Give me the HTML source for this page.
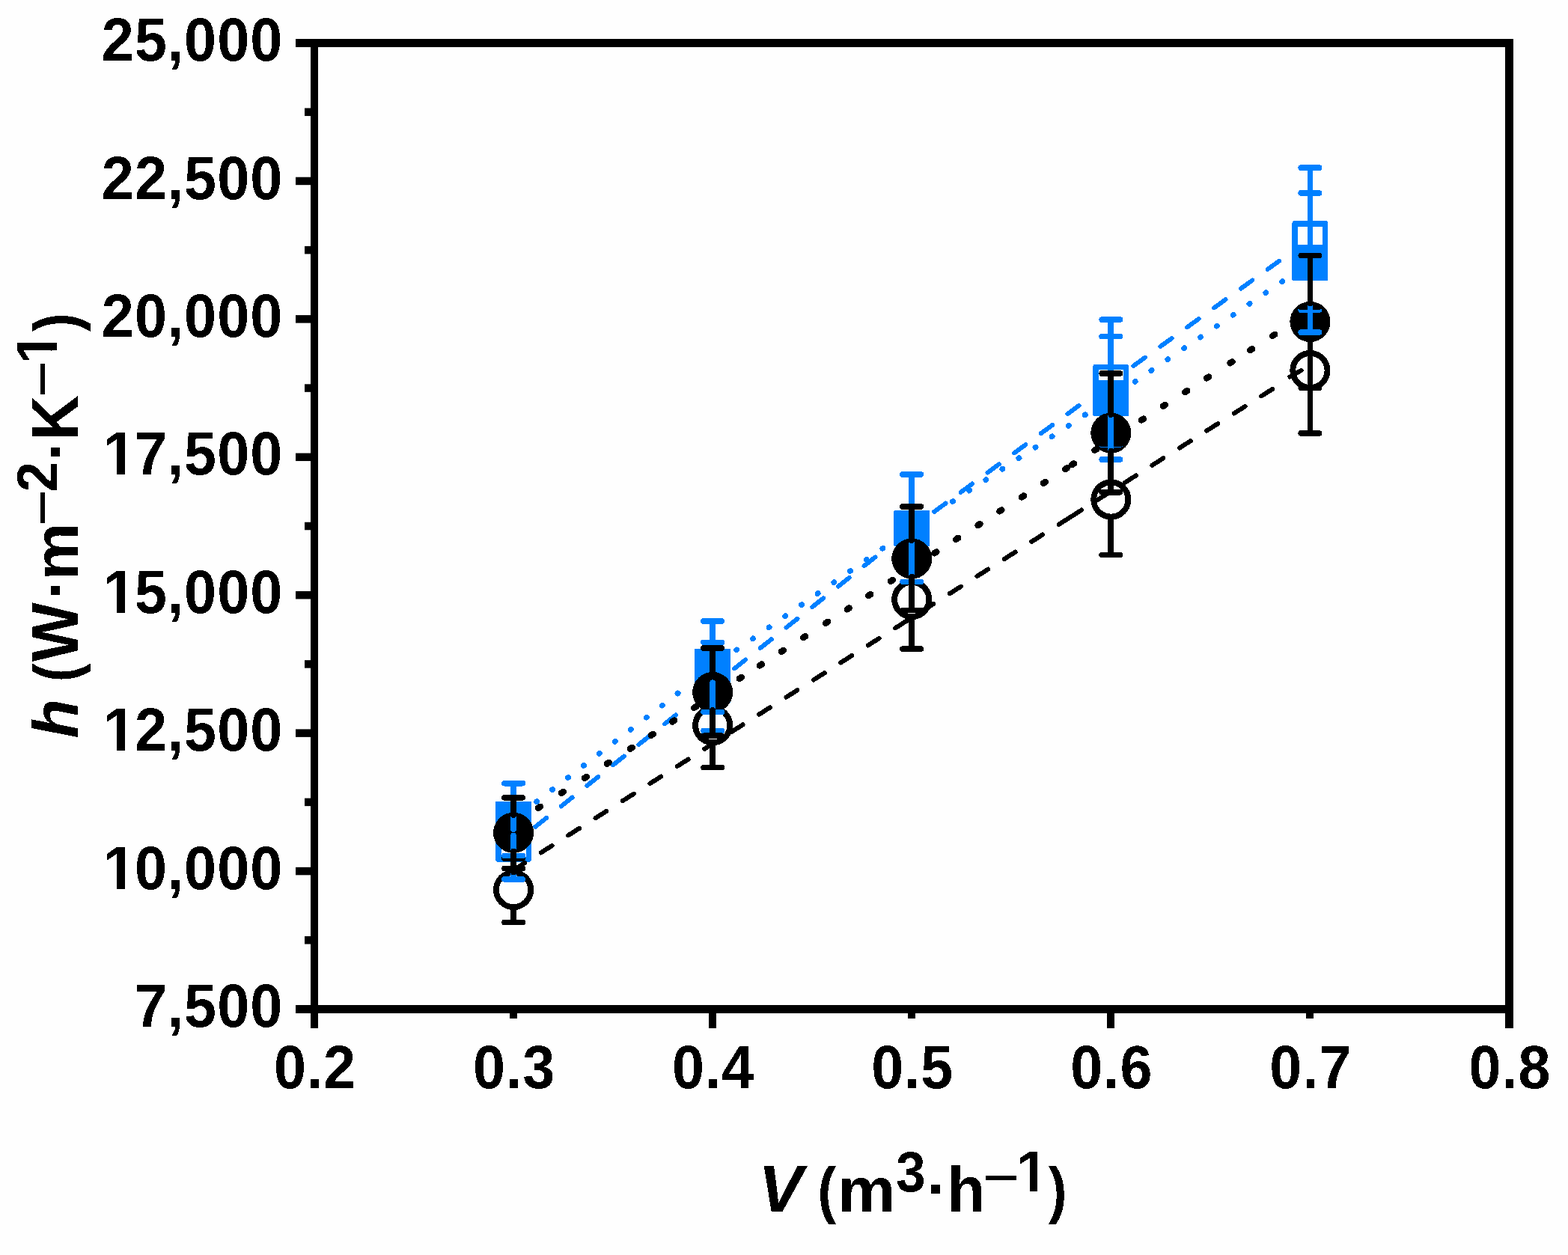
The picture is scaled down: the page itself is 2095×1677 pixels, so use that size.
<!DOCTYPE html>
<html lang="en"><head><meta charset="utf-8"><title>h (W·m–2·K–1) versus V (m3·h–1)</title>
<style>html,body{margin:0;padding:0;background:#fefefe;}body{width:2095px;height:1677px;overflow:hidden;}svg{display:block;}</style>
</head><body>
<svg width="2095" height="1677" viewBox="0 0 2095 1677">
<defs><filter id="bw" x="0" y="0" width="2095" height="1677" filterUnits="userSpaceOnUse" color-interpolation-filters="sRGB"><feComponentTransfer><feFuncA type="discrete" tableValues="0 1"/></feComponentTransfer></filter><clipPath id="k1"><path clip-rule="evenodd" d="M91.54 -200H540.03V100H91.54ZM145.42 -8.09H160.05V20H145.42ZM170.93 -8.09H184.14V20H170.93Z"/></clipPath><clipPath id="k2"><path clip-rule="evenodd" d="M-50 -200H379.59V100H-50ZM3.66 -7.65H17.5V20H3.66ZM27.8 -7.65H40.28V20H27.8Z"/></clipPath></defs>
<rect width="2095" height="1677" fill="#fefefe"/>
<g id="plot" shape-rendering="crispEdges">
<path d="M715.12 1104.91L729.99 1093.08M749.72 1077.4L764.59 1065.57M784.31 1049.89L799.18 1038.06M818.9 1022.38L833.78 1010.55M853.5 994.86L868.37 983.04M888.09 967.35L902.96 955.53" fill="none" stroke="#0080ff" stroke-width="6.0" stroke-linecap="round"/>
<path d="M981.26 893.38L996.16 881.58M1015.92 865.94L1030.81 854.15M1050.57 838.51L1065.47 826.72M1085.23 811.08L1100.13 799.29M1119.89 783.65L1134.79 771.86M1154.55 756.22L1169.45 744.43" fill="none" stroke="#0080ff" stroke-width="6.0" stroke-linecap="round"/>
<path d="M1248.16 683.85L1263.48 672.61M1283.8 657.71L1299.12 646.47M1319.44 631.56L1334.75 620.32M1355.07 605.41L1370.39 594.17M1390.71 579.26L1406.03 568.02M1426.34 553.12L1441.66 541.88" fill="none" stroke="#0080ff" stroke-width="6.0" stroke-linecap="round"/>
<path d="M1514.44 488.89L1529.86 477.79M1550.31 463.07L1565.73 451.97M1586.18 437.24L1601.6 426.14M1622.05 411.42L1637.47 400.32M1657.92 385.59L1673.34 374.49M1693.79 359.77L1709.21 348.66" fill="none" stroke="#0080ff" stroke-width="6.0" stroke-linecap="round"/>
<rect x="665.83" y="1107.75" width="40.5" height="40.5" fill="#fefefe" stroke="#0080ff" stroke-width="7.5" stroke-linejoin="round"/>
<rect x="931.92" y="896.15" width="40.5" height="40.5" fill="#fefefe" stroke="#0080ff" stroke-width="7.5" stroke-linejoin="round"/>
<rect x="1198" y="685.55" width="40.5" height="40.5" fill="#fefefe" stroke="#0080ff" stroke-width="7.5" stroke-linejoin="round"/>
<rect x="1464.08" y="490.32" width="40.5" height="40.5" fill="#fefefe" stroke="#0080ff" stroke-width="7.5" stroke-linejoin="round"/>
<rect x="1730.17" y="298.75" width="40.5" height="40.5" fill="#fefefe" stroke="#0080ff" stroke-width="7.5" stroke-linejoin="round"/>
<circle cx="686.08" cy="1189" r="23.1" fill="#fefefe" stroke="#000" stroke-width="7.9"/>
<circle cx="952.17" cy="969.2" r="23.1" fill="#fefefe" stroke="#000" stroke-width="7.9"/>
<circle cx="1218.25" cy="801" r="23.1" fill="#fefefe" stroke="#000" stroke-width="7.9"/>
<circle cx="1484.33" cy="667.5" r="23.1" fill="#fefefe" stroke="#000" stroke-width="7.9"/>
<circle cx="1750.42" cy="495" r="23.1" fill="#fefefe" stroke="#000" stroke-width="7.9"/>
<path d="M716.86 1071.33L717.34 1070.96M737.81 1055.26L738.28 1054.89M758.75 1039.18L759.23 1038.82M779.7 1023.11L780.17 1022.75M800.64 1007.04L801.12 1006.67M821.58 990.97L822.06 990.6M842.53 974.9L843 974.53M863.47 958.82L863.95 958.46M884.42 942.75L884.89 942.39M905.36 926.68L905.84 926.31" fill="none" stroke="#0080ff" stroke-width="7.4" stroke-linecap="round"/>
<path d="M984.03 868.61L984.52 868.27M1005.7 853.55L1006.2 853.2M1027.38 838.48L1027.87 838.13M1049.06 823.41L1049.55 823.07M1070.73 808.34L1071.23 808M1092.41 793.27L1092.9 792.93M1114.09 778.2L1114.58 777.86M1135.77 763.14L1136.26 762.79M1157.44 748.07L1157.94 747.72M1179.12 733L1179.61 732.66" fill="none" stroke="#0080ff" stroke-width="7.4" stroke-linecap="round"/>
<path d="M1272.82 670.12L1273.32 669.79M1294.91 655.67L1295.42 655.34M1317.01 641.22L1317.51 640.89M1339.1 626.77L1339.61 626.44M1361.2 612.32L1361.7 611.99M1383.29 597.87L1383.8 597.54M1405.39 583.42L1405.89 583.1M1427.48 568.98L1427.99 568.65M1449.58 554.53L1450.08 554.2" fill="none" stroke="#0080ff" stroke-width="7.4" stroke-linecap="round"/>
<path d="M1516.42 509.98L1516.91 509.64M1538.25 495.14L1538.74 494.8M1560.08 480.29L1560.57 479.95M1581.91 465.44L1582.4 465.11M1603.74 450.6L1604.23 450.26M1625.57 435.75L1626.07 435.42M1647.4 420.91L1647.9 420.57M1669.23 406.06L1669.73 405.72M1691.06 391.22L1691.56 390.88M1712.89 376.37L1713.39 376.03" fill="none" stroke="#0080ff" stroke-width="7.4" stroke-linecap="round"/>
<rect x="662.08" y="1070.95" width="48" height="48" rx="1.5" fill="#0080ff"/>
<rect x="928.17" y="866.76" width="48" height="48" rx="1.5" fill="#0080ff"/>
<rect x="1194.25" y="681.8" width="48" height="48" rx="1.5" fill="#0080ff"/>
<rect x="1460.33" y="507.8" width="48" height="48" rx="1.5" fill="#0080ff"/>
<rect x="1726.42" y="326.85" width="48" height="48" rx="1.5" fill="#0080ff"/>
<circle cx="686.08" cy="1112.7" r="27.05" fill="#000"/>
<circle cx="952.17" cy="925" r="27.05" fill="#000"/>
<circle cx="1218.25" cy="746.5" r="27.05" fill="#000"/>
<circle cx="1484.33" cy="578.6" r="27.05" fill="#000"/>
<circle cx="1750.42" cy="429.95" r="27.05" fill="#000"/>
<path d="M690.11 1098.31L692.89 1096.52M719.11 1079.66L721.89 1077.88M750.11 1059.73L752.89 1057.94M781.11 1039.8L783.89 1038.01M810.81 1020.7L813.59 1018.91M842.01 1000.64L844.79 998.85M869.91 982.7L872.69 980.91M898.31 964.44L901.09 962.65M927.31 945.79L930.09 944.01M956.61 926.95L959.39 925.17M987.81 906.89L990.59 905.1M1015.01 889.4L1017.79 887.61M1044.11 870.69L1046.89 868.9M1073.11 852.04L1075.89 850.26M1103.21 832.69L1105.99 830.9M1131.81 814.3L1134.59 812.51M1160.41 795.91L1163.19 794.12M1189.91 776.94L1192.69 775.15M1219.11 758.16L1221.89 756.38M1248.51 739.26L1251.29 737.47M1277.31 720.74L1280.09 718.96M1306.51 701.96L1309.29 700.18M1335.51 683.32L1338.29 681.53M1365.01 664.35L1367.79 662.56M1393.91 645.77L1396.69 643.98M1423.11 626.99L1425.89 625.21M1432.11 621.2L1434.89 619.42M1462.51 601.66L1465.29 599.87M1492.61 582.3L1495.39 580.52M1525.01 561.47L1527.79 559.68M1554.11 542.76L1556.89 540.97M1583.41 523.92L1586.19 522.13M1612.31 505.33L1615.09 503.55M1643.61 485.21L1646.39 483.42M1670.41 467.98L1673.19 466.19M1700.31 448.75L1703.09 446.97M1729.61 429.91L1732.39 428.13" fill="none" stroke="#000" stroke-width="8.6" stroke-linecap="round"/>
<path d="M686.31 1162.46L701.09 1153.09M722.73 1139.37L737.51 1130M759.15 1116.29L773.93 1106.92M795.57 1093.21L810.35 1083.84M831.99 1070.12L846.77 1060.75M868.41 1047.04L883.19 1037.67M904.83 1023.95L919.61 1014.58M941.25 1000.87L956.03 991.5M977.67 977.79L992.45 968.42M1014.09 954.7L1028.87 945.33M1050.51 931.62L1065.29 922.25M1086.93 908.53L1101.71 899.17M1123.35 885.45L1138.13 876.08M1159.77 862.37L1174.55 853M1196.19 839.28L1210.97 829.91M1232.61 816.2L1247.39 806.83M1269.03 793.11L1283.81 783.75M1305.45 770.03L1320.23 760.66M1341.87 746.95L1356.65 737.58M1378.29 723.86L1393.07 714.49M1414.71 700.78L1429.49 691.41M1430.21 690.96L1444.99 681.59M1466.63 667.87L1481.41 658.5M1503.05 644.79L1517.83 635.42M1539.47 621.7L1554.25 612.33M1575.89 598.62L1590.67 589.25M1612.31 575.54L1627.09 566.17M1648.73 552.45L1663.51 543.08M1685.15 529.37L1699.93 520" fill="none" stroke="#000" stroke-width="6.1" stroke-linecap="round"/>
<path d="M1723.4 503.6L1738.6 494.9" fill="none" stroke="#000" stroke-width="6.1" stroke-linecap="round"/>
<path d="M686.08 1108V1085.85" stroke="#0080ff" stroke-width="7.8" stroke-linecap="round" fill="none"/><path d="M673.88 1082.1H698.28" stroke="#0080ff" stroke-width="7.6" stroke-linecap="round" fill="none"/><path d="M686.08 1149V1171.15" stroke="#0080ff" stroke-width="7.8" stroke-linecap="round" fill="none"/><path d="M673.88 1174.9H698.28" stroke="#0080ff" stroke-width="7.6" stroke-linecap="round" fill="none"/>
<path d="M952.17 896.9V862.09" stroke="#0080ff" stroke-width="7.8" stroke-linecap="round" fill="none"/><path d="M939.97 858.34H964.37" stroke="#0080ff" stroke-width="7.6" stroke-linecap="round" fill="none"/><path d="M952.17 937.9V972.71" stroke="#0080ff" stroke-width="7.8" stroke-linecap="round" fill="none"/><path d="M939.97 976.46H964.37" stroke="#0080ff" stroke-width="7.6" stroke-linecap="round" fill="none"/>
<path d="M1218.25 685.2V637.69" stroke="#0080ff" stroke-width="7.8" stroke-linecap="round" fill="none"/><path d="M1206.05 633.94H1230.45" stroke="#0080ff" stroke-width="7.6" stroke-linecap="round" fill="none"/><path d="M1218.25 726.2V773.71" stroke="#0080ff" stroke-width="7.8" stroke-linecap="round" fill="none"/><path d="M1206.05 777.46H1230.45" stroke="#0080ff" stroke-width="7.6" stroke-linecap="round" fill="none"/>
<path d="M1484.33 490.07V430.85" stroke="#0080ff" stroke-width="7.8" stroke-linecap="round" fill="none"/><path d="M1472.13 427.1H1496.53" stroke="#0080ff" stroke-width="7.6" stroke-linecap="round" fill="none"/><path d="M1484.33 531.07V590.29" stroke="#0080ff" stroke-width="7.8" stroke-linecap="round" fill="none"/><path d="M1472.13 594.04H1496.53" stroke="#0080ff" stroke-width="7.6" stroke-linecap="round" fill="none"/>
<path d="M1750.42 298.6V227.89" stroke="#0080ff" stroke-width="7.8" stroke-linecap="round" fill="none"/><path d="M1738.22 224.14H1762.62" stroke="#0080ff" stroke-width="7.6" stroke-linecap="round" fill="none"/><path d="M1750.42 339.6V410.31" stroke="#0080ff" stroke-width="7.8" stroke-linecap="round" fill="none"/><path d="M1738.22 414.06H1762.62" stroke="#0080ff" stroke-width="7.6" stroke-linecap="round" fill="none"/>
<path d="M686.08 1165.5V1150.83" stroke="#000" stroke-width="7.8" stroke-linecap="round" fill="none"/><path d="M673.83 1147.08H698.33" stroke="#000" stroke-width="7.5" stroke-linecap="round" fill="none"/><path d="M686.08 1214.1V1228.77" stroke="#000" stroke-width="7.8" stroke-linecap="round" fill="none"/><path d="M673.83 1232.52H698.33" stroke="#000" stroke-width="7.5" stroke-linecap="round" fill="none"/>
<path d="M952.17 945.4V917.53" stroke="#000" stroke-width="7.8" stroke-linecap="round" fill="none"/><path d="M939.92 913.78H964.42" stroke="#000" stroke-width="7.5" stroke-linecap="round" fill="none"/><path d="M952.17 994V1021.87" stroke="#000" stroke-width="7.8" stroke-linecap="round" fill="none"/><path d="M939.92 1025.62H964.42" stroke="#000" stroke-width="7.5" stroke-linecap="round" fill="none"/>
<path d="M1218.25 776.7V738.7" stroke="#000" stroke-width="7.8" stroke-linecap="round" fill="none"/><path d="M1206 734.95H1230.5" stroke="#000" stroke-width="7.5" stroke-linecap="round" fill="none"/><path d="M1218.25 825.3V863.3" stroke="#000" stroke-width="7.8" stroke-linecap="round" fill="none"/><path d="M1206 867.05H1230.5" stroke="#000" stroke-width="7.5" stroke-linecap="round" fill="none"/>
<path d="M1484.33 643.15V597.14" stroke="#000" stroke-width="7.8" stroke-linecap="round" fill="none"/><path d="M1472.08 593.39H1496.58" stroke="#000" stroke-width="7.5" stroke-linecap="round" fill="none"/><path d="M1484.33 691.75V737.76" stroke="#000" stroke-width="7.8" stroke-linecap="round" fill="none"/><path d="M1472.08 741.51H1496.58" stroke="#000" stroke-width="7.5" stroke-linecap="round" fill="none"/>
<path d="M1750.42 470.2V413.81" stroke="#000" stroke-width="7.8" stroke-linecap="round" fill="none"/><path d="M1738.17 410.06H1762.67" stroke="#000" stroke-width="7.5" stroke-linecap="round" fill="none"/><path d="M1750.42 518.8V575.19" stroke="#000" stroke-width="7.8" stroke-linecap="round" fill="none"/><path d="M1738.17 578.94H1762.67" stroke="#000" stroke-width="7.5" stroke-linecap="round" fill="none"/>
<path d="M686.08 1073.6V1050.45" stroke="#0080ff" stroke-width="7.8" stroke-linecap="round" fill="none"/><path d="M673.88 1046.7H698.28" stroke="#0080ff" stroke-width="7.6" stroke-linecap="round" fill="none"/><path d="M686.08 1116.6V1139.75" stroke="#0080ff" stroke-width="7.8" stroke-linecap="round" fill="none"/><path d="M673.88 1143.5H698.28" stroke="#0080ff" stroke-width="7.6" stroke-linecap="round" fill="none"/>
<path d="M952.17 869.25V833.84" stroke="#0080ff" stroke-width="7.8" stroke-linecap="round" fill="none"/><path d="M939.97 830.09H964.37" stroke="#0080ff" stroke-width="7.6" stroke-linecap="round" fill="none"/><path d="M952.17 912.25V947.66" stroke="#0080ff" stroke-width="7.8" stroke-linecap="round" fill="none"/><path d="M939.97 951.41H964.37" stroke="#0080ff" stroke-width="7.6" stroke-linecap="round" fill="none"/>
<path d="M1218.25 684.2V637.69" stroke="#0080ff" stroke-width="7.8" stroke-linecap="round" fill="none"/><path d="M1206.05 633.94H1230.45" stroke="#0080ff" stroke-width="7.6" stroke-linecap="round" fill="none"/><path d="M1218.25 727.2V773.71" stroke="#0080ff" stroke-width="7.8" stroke-linecap="round" fill="none"/><path d="M1206.05 777.46H1230.45" stroke="#0080ff" stroke-width="7.6" stroke-linecap="round" fill="none"/>
<path d="M1484.33 510.35V453.41" stroke="#0080ff" stroke-width="7.8" stroke-linecap="round" fill="none"/><path d="M1472.13 449.66H1496.53" stroke="#0080ff" stroke-width="7.6" stroke-linecap="round" fill="none"/><path d="M1484.33 553.35V610.29" stroke="#0080ff" stroke-width="7.8" stroke-linecap="round" fill="none"/><path d="M1472.13 614.04H1496.53" stroke="#0080ff" stroke-width="7.6" stroke-linecap="round" fill="none"/>
<path d="M1750.42 329.5V261.7" stroke="#0080ff" stroke-width="7.8" stroke-linecap="round" fill="none"/><path d="M1738.22 257.95H1762.62" stroke="#0080ff" stroke-width="7.6" stroke-linecap="round" fill="none"/><path d="M1750.42 372.5V440.3" stroke="#0080ff" stroke-width="7.8" stroke-linecap="round" fill="none"/><path d="M1738.22 444.05H1762.62" stroke="#0080ff" stroke-width="7.6" stroke-linecap="round" fill="none"/>
<path d="M686.08 1088.9V1069.64" stroke="#000" stroke-width="7.8" stroke-linecap="round" fill="none"/><path d="M673.83 1065.89H698.33" stroke="#000" stroke-width="7.5" stroke-linecap="round" fill="none"/><path d="M686.08 1137.5V1156.76" stroke="#000" stroke-width="7.8" stroke-linecap="round" fill="none"/><path d="M673.83 1160.51H698.33" stroke="#000" stroke-width="7.5" stroke-linecap="round" fill="none"/>
<path d="M952.17 900.3V869.72" stroke="#000" stroke-width="7.8" stroke-linecap="round" fill="none"/><path d="M939.92 865.97H964.42" stroke="#000" stroke-width="7.5" stroke-linecap="round" fill="none"/><path d="M952.17 948.9V979.48" stroke="#000" stroke-width="7.8" stroke-linecap="round" fill="none"/><path d="M939.92 983.23H964.42" stroke="#000" stroke-width="7.5" stroke-linecap="round" fill="none"/>
<path d="M1218.25 722V680.72" stroke="#000" stroke-width="7.8" stroke-linecap="round" fill="none"/><path d="M1206 676.97H1230.5" stroke="#000" stroke-width="7.5" stroke-linecap="round" fill="none"/><path d="M1218.25 770.6V811.88" stroke="#000" stroke-width="7.8" stroke-linecap="round" fill="none"/><path d="M1206 815.63H1230.5" stroke="#000" stroke-width="7.5" stroke-linecap="round" fill="none"/>
<path d="M1484.33 554.1V502.75" stroke="#000" stroke-width="7.8" stroke-linecap="round" fill="none"/><path d="M1472.08 499H1496.58" stroke="#000" stroke-width="7.5" stroke-linecap="round" fill="none"/><path d="M1484.33 602.7V654.05" stroke="#000" stroke-width="7.8" stroke-linecap="round" fill="none"/><path d="M1472.08 657.8H1496.58" stroke="#000" stroke-width="7.5" stroke-linecap="round" fill="none"/>
<path d="M1750.42 405.55V345.29" stroke="#000" stroke-width="7.8" stroke-linecap="round" fill="none"/><path d="M1738.17 341.54H1762.67" stroke="#000" stroke-width="7.5" stroke-linecap="round" fill="none"/><path d="M1750.42 454.15V514.41" stroke="#000" stroke-width="7.8" stroke-linecap="round" fill="none"/><path d="M1738.17 518.16H1762.67" stroke="#000" stroke-width="7.5" stroke-linecap="round" fill="none"/>
</g>
<g fill="#000" shape-rendering="crispEdges">
<rect x="415" y="52" width="10" height="1322"/>
<rect x="2011" y="52" width="11" height="1322"/>
<rect x="395" y="52" width="1627" height="11"/>
<rect x="395" y="1343" width="1627" height="11"/>
<rect x="395" y="236.68" width="22" height="10.5" shape-rendering="auto"/>
<rect x="395" y="421.11" width="22" height="10.5" shape-rendering="auto"/>
<rect x="395" y="605.54" width="22" height="10.5" shape-rendering="auto"/>
<rect x="395" y="789.96" width="22" height="10.5" shape-rendering="auto"/>
<rect x="395" y="974.39" width="22" height="10.5" shape-rendering="auto"/>
<rect x="395" y="1158.82" width="22" height="10.5" shape-rendering="auto"/>
<rect x="407" y="144.46" width="10" height="10.5" shape-rendering="auto"/>
<rect x="407" y="328.89" width="10" height="10.5" shape-rendering="auto"/>
<rect x="407" y="513.32" width="10" height="10.5" shape-rendering="auto"/>
<rect x="407" y="697.75" width="10" height="10.5" shape-rendering="auto"/>
<rect x="407" y="882.18" width="10" height="10.5" shape-rendering="auto"/>
<rect x="407" y="1066.61" width="10" height="10.5" shape-rendering="auto"/>
<rect x="407" y="1251.04" width="10" height="10.5" shape-rendering="auto"/>
<rect x="681" y="1350" width="10" height="11"/>
<rect x="947" y="1350" width="10" height="24"/>
<rect x="1213" y="1350" width="10" height="11"/>
<rect x="1479" y="1350" width="10" height="24"/>
<rect x="1745" y="1350" width="10" height="11"/>
</g>
<g font-family="'Liberation Sans', Arial, Helvetica, sans-serif" font-weight="bold" fill="#000" filter="url(#bw)">
<text transform="matrix(0.975 0 0 1.034 0 81.2)" x="139.29 184.52 229.47 252.35 297.59 342.82" y="0" font-size="79.3">25,000</text>
<text transform="matrix(0.975 0 0 1.034 0 265.63)" x="139.29 184.52 229.47 252.35 297.59 342.82" y="0" font-size="79.3">22,500</text>
<text transform="matrix(0.975 0 0 1.034 0 450.06)" x="139.29 184.52 229.47 252.35 297.59 342.82" y="0" font-size="79.3">20,000</text>
<text transform="matrix(0.975 0 0 1.034 0 634.49)" x="141.54 184.52 229.47 252.35 297.59 342.82" y="0" font-size="79.3" clip-path="url(#k1)">17,500</text>
<text transform="matrix(0.975 0 0 1.034 0 818.91)" x="141.54 184.52 229.47 252.35 297.59 342.82" y="0" font-size="79.3" clip-path="url(#k1)">15,000</text>
<text transform="matrix(0.975 0 0 1.034 0 1003.34)" x="141.54 184.52 229.47 252.35 297.59 342.82" y="0" font-size="79.3" clip-path="url(#k1)">12,500</text>
<text transform="matrix(0.975 0 0 1.034 0 1187.77)" x="141.54 184.52 229.47 252.35 297.59 342.82" y="0" font-size="79.3" clip-path="url(#k1)">10,000</text>
<text transform="matrix(0.975 0 0 1.034 0 1372.2)" x="184.52 229.47 252.35 297.59 342.82" y="0" font-size="79.3">7,500</text>
<text transform="matrix(0.975 0 0 1.034 0 1454)" x="375.32 420.27 443.15" y="0" font-size="79.3">0.2</text>
<text transform="matrix(0.975 0 0 1.034 0 1454)" x="648.22 693.17 716.05" y="0" font-size="79.3">0.3</text>
<text transform="matrix(0.975 0 0 1.034 0 1454)" x="921.13 966.08 988.96" y="0" font-size="79.3">0.4</text>
<text transform="matrix(0.975 0 0 1.034 0 1454)" x="1194.03 1238.98 1261.86" y="0" font-size="79.3">0.5</text>
<text transform="matrix(0.975 0 0 1.034 0 1454)" x="1466.94 1511.89 1534.77" y="0" font-size="79.3">0.6</text>
<text transform="matrix(0.975 0 0 1.034 0 1454)" x="1739.85 1784.8 1807.68" y="0" font-size="79.3">0.7</text>
<text transform="matrix(0.975 0 0 1.034 0 1454)" x="2012.75 2057.7 2080.58" y="0" font-size="79.3">0.8</text>
<g aria-label="V (m3·h–1)">
<text transform="matrix(1.0467 0 0 1.0382 1013.34 1619)" font-size="85.4" font-style="italic">V</text>
<text transform="matrix(0.8796 0 0 0.9799 1092.16 1618.63)" font-size="85.4">(</text>
<text transform="matrix(1.0168 0 0 0.9806 1119.28 1619)" font-size="85.4">m</text>
<text transform="matrix(0.9496 0 0 1.0205 1196.97 1592.34)" font-size="75">3</text>
<text transform="matrix(1.0159 0 0 0.9593 1237.93 1616.34)" font-size="85.4">·</text>
<text transform="matrix(0.9778 0 0 0.9882 1265.37 1619)" font-size="85.4">h</text>
<text transform="matrix(1.1095 0 0 0.8205 1314.38 1589.56)" font-size="75">–</text>
<text transform="matrix(1.0279 0 0 1.0291 1357.73 1592)" font-size="75" clip-path="url(#k2)">1</text>
<text transform="matrix(0.8754 0 0 0.9817 1400.83 1618.6)" font-size="85.4">)</text>
</g>
<g transform="rotate(-90)" aria-label="h (W·m–2·K–1)">
<text transform="matrix(1.0059 0 0 0.9906 -986.47 104.2)" font-size="85.4" font-style="italic">h</text>
<text transform="matrix(0.8692 0 0 0.9824 -911.25 103.69)" font-size="85.4">(</text>
<text transform="matrix(0.9834 0 0 1.0433 -884.18 104.2)" font-size="85.4">W</text>
<text transform="matrix(1.0117 0 0 0.9593 -800.95 101.44)" font-size="85.4">·</text>
<text transform="matrix(1.0168 0 0 0.9836 -775.62 104.2)" font-size="85.4">m</text>
<text transform="matrix(1.1068 0 0 0.8273 -701.51 73.62)" font-size="75">–</text>
<text transform="matrix(0.9638 0 0 1.0140 -657.21 76.1)" font-size="75">2</text>
<text transform="matrix(1.0159 0 0 0.9593 -616.07 101.44)" font-size="85.4">·</text>
<text transform="matrix(0.9825 0 0 1.0433 -588.71 104.2)" font-size="85.4">K</text>
<text transform="matrix(1.1068 0 0 0.8273 -529.61 73.62)" font-size="75">–</text>
<text transform="matrix(1.0102 0 0 1.0291 -486.08 76.1)" font-size="75" clip-path="url(#k2)">1</text>
<text transform="matrix(0.8713 0 0 0.9824 -442.97 103.69)" font-size="85.4">)</text>
</g>
</g>
</svg>
</body></html>
